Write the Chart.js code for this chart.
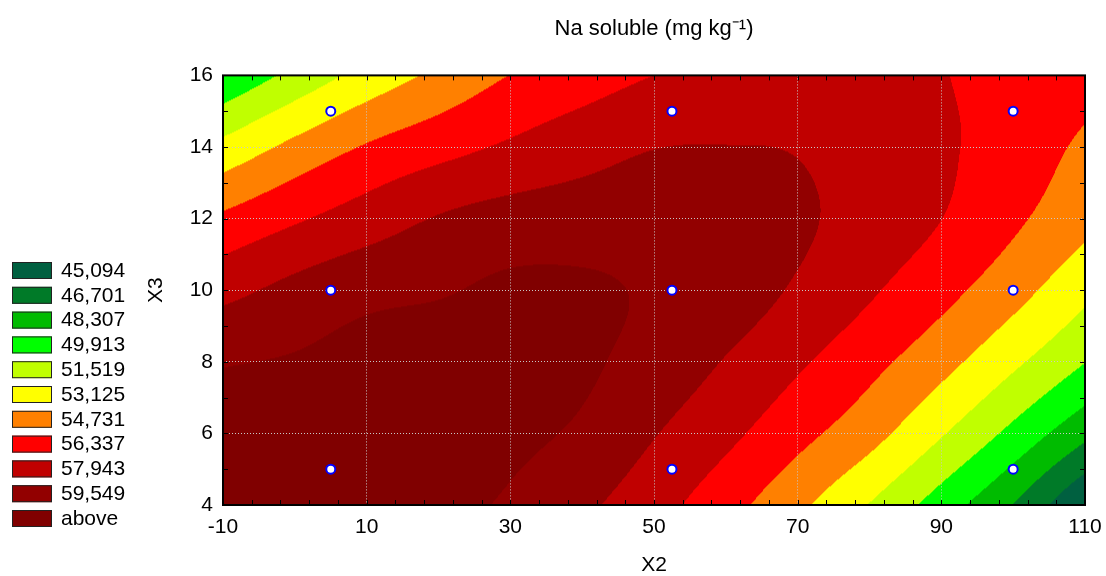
<!DOCTYPE html>
<html>
<head>
<meta charset="utf-8">
<title>Na soluble</title>
<script src="https://cdn.jsdelivr.net/npm/chart.js@4.4.1/dist/chart.umd.min.js"></script>
<style>
  html, body { margin: 0; padding: 0; background: #fff; }
  #wrap { width: 1106px; height: 576px; }
</style>
</head>
<body>
<div id="wrap"><canvas id="naChart"></canvas></div>
<script>
// ---------- data ----------
// fitted surface at grid nodes (X2 across, one row per X3)
const x2Grid = [-10, 0, 10, 20, 30, 40, 50, 60, 70, 80, 90, 100, 110];
const x3Grid = [4, 6, 8, 10, 12, 14, 16];
const naX3_4  = [60.43, 60.52, 60.33, 59.90, 59.36, 58.28, 56.93, 55.34, 53.48, 51.45, 49.13, 46.64, 43.40];
const naX3_6  = [60.00, 60.40, 60.50, 60.37, 59.90, 59.30, 58.03, 56.74, 55.24, 53.70, 51.66, 49.47, 47.10];
const naX3_8  = [59.45, 59.69, 60.12, 60.28, 60.17, 59.80, 58.93, 57.85, 56.58, 55.22, 53.67, 51.84, 49.95];
const naX3_10 = [57.46, 58.40, 59.10, 59.40, 59.85, 59.80, 59.35, 58.75, 57.74, 56.54, 55.25, 53.72, 51.94];
const naX3_12 = [55.02, 56.13, 57.11, 58.05, 58.57, 58.73, 58.80, 58.60, 58.19, 57.27, 56.35, 55.03, 53.60];
const naX3_14 = [51.98, 53.55, 54.87, 55.77, 56.57, 57.30, 57.90, 57.97, 57.85, 57.13, 56.55, 55.63, 54.44];
const naX3_16 = [48.50, 50.37, 52.09, 53.48, 54.76, 55.55, 56.34, 56.80, 57.00, 56.90, 56.40, 55.85, 55.35];

// contour levels and legend
const levels = [45.094, 46.701, 48.307, 49.913, 51.519, 53.125, 54.731, 56.337, 57.943, 59.549];
const levelLabels = ['45,094', '46,701', '48,307', '49,913', '51,519', '53,125', '54,731', '56,337', '57,943', '59,549', 'above'];
const levelColors = ['#006040', '#007a28', '#00bb00', '#00ff00', '#c0ff00', '#ffff00', '#ff8000', '#ff0000', '#c00000', '#920000', '#800000'];

// design points
const x2Design = [5, 52.5, 100, 5, 52.5, 100, 5, 52.5, 100];
const x3Design = [5, 5, 5, 10, 10, 10, 15, 15, 15];

// axis ticks
const x2Ticks = [-10, 10, 30, 50, 70, 90, 110];
const x3Ticks = [4, 6, 8, 10, 12, 14, 16];

const surface = [naX3_4, naX3_6, naX3_8, naX3_10, naX3_12, naX3_14, naX3_16];

// ---------- helpers ----------
function hexToRgb(h) {
  return [parseInt(h.slice(1, 3), 16), parseInt(h.slice(3, 5), 16), parseInt(h.slice(5, 7), 16)];
}

function node(i, j) {
  const nx = x2Grid.length, ny = x3Grid.length;
  if (i < 0) return 2 * node(0, j) - node(1, j);
  if (i > nx - 1) return 2 * node(nx - 1, j) - node(nx - 2, j);
  if (j < 0) return 2 * node(i, 0) - node(i, 1);
  if (j > ny - 1) return 2 * node(i, ny - 1) - node(i, ny - 2);
  return surface[j][i];
}

function cr(p0, p1, p2, p3, t) {
  return p1 + 0.5 * t * (p2 - p0 + t * (2 * p0 - 5 * p1 + 4 * p2 - p3 + t * (3 * (p1 - p2) + p3 - p0)));
}

function surfaceAt(vx, vy) {
  const fx = (vx - x2Grid[0]) / (x2Grid[1] - x2Grid[0]);
  const fy = (vy - x3Grid[0]) / (x3Grid[1] - x3Grid[0]);
  const i = Math.min(Math.max(Math.floor(fx), 0), x2Grid.length - 2);
  const j = Math.min(Math.max(Math.floor(fy), 0), x3Grid.length - 2);
  const t = fx - i, u = fy - j;
  const col = [];
  for (let k = -1; k <= 2; k++) {
    col.push(cr(node(i - 1, j + k), node(i, j + k), node(i + 1, j + k), node(i + 2, j + k), t));
  }
  return cr(col[0], col[1], col[2], col[3], u);
}

// ---------- plugins ----------
const surfacePlugin = {
  id: 'surface',
  beforeDraw(chart) {
    const {ctx, chartArea: a, scales: {x, y}} = chart;
    const w = Math.round(a.right - a.left), h = Math.round(a.bottom - a.top);
    const off = document.createElement('canvas');
    off.width = w; off.height = h;
    const octx = off.getContext('2d');
    const img = octx.createImageData(w, h);
    const rgb = levelColors.map(hexToRgb);
    const xs = [];
    for (let i = 0; i < w; i++) xs.push(x.getValueForPixel(a.left + i + 0.5));
    for (let j = 0; j < h; j++) {
      const vy = y.getValueForPixel(a.top + j + 0.5);
      for (let i = 0; i < w; i++) {
        const z = surfaceAt(xs[i], vy);
        let k = 0;
        while (k < levels.length && z > levels[k]) k++;
        const c = rgb[k], p = (j * w + i) * 4;
        img.data[p] = c[0]; img.data[p + 1] = c[1]; img.data[p + 2] = c[2]; img.data[p + 3] = 255;
      }
    }
    octx.putImageData(img, 0, 0);
    ctx.drawImage(off, a.left, a.top, w, h);
  }
};

const framePlugin = {
  id: 'frame',
  beforeDatasetsDraw(chart) {
    const {ctx, chartArea: a, scales: {x, y}} = chart;
    ctx.save();
    ctx.strokeStyle = '#000';
    ctx.lineWidth = 1;
    ctx.beginPath();
    for (let v = -10; v <= 110; v += 4) {
      const px = Math.round(x.getPixelForValue(v)) + 0.5;
      ctx.moveTo(px, a.bottom); ctx.lineTo(px, a.bottom - 5);
      ctx.moveTo(px, a.top); ctx.lineTo(px, a.top + 5);
    }
    for (let v = 4; v <= 16; v += 1) {
      const py = Math.round(y.getPixelForValue(v)) + 0.5;
      ctx.moveTo(a.left, py); ctx.lineTo(a.left + 5, py);
      ctx.moveTo(a.right, py); ctx.lineTo(a.right - 5, py);
    }
    ctx.stroke();
    ctx.lineWidth = 2;
    ctx.strokeRect(a.left, a.top, a.right - a.left, a.bottom - a.top);
    ctx.restore();
  }
};

const legendPlugin = {
  id: 'sideLegend',
  afterDraw(chart) {
    const ctx = chart.ctx;
    ctx.save();
    ctx.font = "21px 'Liberation Sans', Arial, sans-serif";
    ctx.textBaseline = 'middle';
    ctx.textAlign = 'left';
    levelLabels.forEach((lab, i) => {
      const top = 262 + i * 24.8;
      ctx.fillStyle = levelColors[i];
      ctx.fillRect(12, top, 40, 17);
      ctx.strokeStyle = '#222';
      ctx.lineWidth = 1;
      ctx.strokeRect(12.5, top + 0.5, 39, 16);
      ctx.fillStyle = '#000';
      ctx.fillText(lab, 61, top + 9);
    });
    ctx.restore();
  }
};

// ---------- chart ----------
Chart.defaults.font.family = "'Liberation Sans', Arial, sans-serif";
Chart.defaults.color = '#000';

new Chart(document.getElementById('naChart'), {
  type: 'scatter',
  data: {
    datasets: [{
      data: x2Design.map((v, i) => ({x: v, y: x3Design[i]})),
      pointRadius: 4.5,
      pointBorderWidth: 2,
      pointBackgroundColor: '#ffffff',
      pointBorderColor: '#0000ff'
    }]
  },
  options: {
    responsive: true,
    maintainAspectRatio: false,
    animation: false,
    layout: { padding: { left: 140, right: 21, top: 0, bottom: 0 } },
    plugins: {
      legend: { display: false },
      tooltip: { enabled: false },
      title: {
        display: true,
        text: 'Na soluble (mg kg\u207B\u00B9)',
        fullSize: false,
        color: '#000',
        font: { size: 22, weight: 'normal' },
        padding: { top: 16, bottom: 33 }
      }
    },
    scales: {
      x: {
        type: 'linear', min: -10, max: 110,
        afterBuildTicks: s => { s.ticks = x2Ticks.map(v => ({value: v})); },
        afterFit: s => { s.height = 71; s.paddingLeft = 0; s.paddingRight = 0; },
        ticks: { font: { size: 21 }, padding: 10, maxRotation: 0, autoSkip: false, color: '#000' },
        grid: { color: '#c8c8c8', lineWidth: 1, drawTicks: false },
        border: { display: false, dash: [1, 2] },
        title: { display: true, text: 'X2', font: { size: 21, lineHeight: 1 }, padding: { top: 0, bottom: 0 }, color: '#000' }
      },
      y: {
        type: 'linear', min: 4, max: 16,
        afterBuildTicks: s => { s.ticks = x3Ticks.map(v => ({value: v})); },
        afterFit: s => { s.width = 83; },
        ticks: { font: { size: 21 }, padding: 10, color: '#000' },
        grid: { color: '#c8c8c8', lineWidth: 1, drawTicks: false },
        border: { display: false, dash: [1, 2] },
        title: { display: true, text: 'X3', font: { size: 21, lineHeight: 1 }, padding: { top: 6, bottom: 0 }, color: '#000' }
      }
    }
  },
  plugins: [surfacePlugin, framePlugin, legendPlugin]
});
</script>
</body>
</html>
